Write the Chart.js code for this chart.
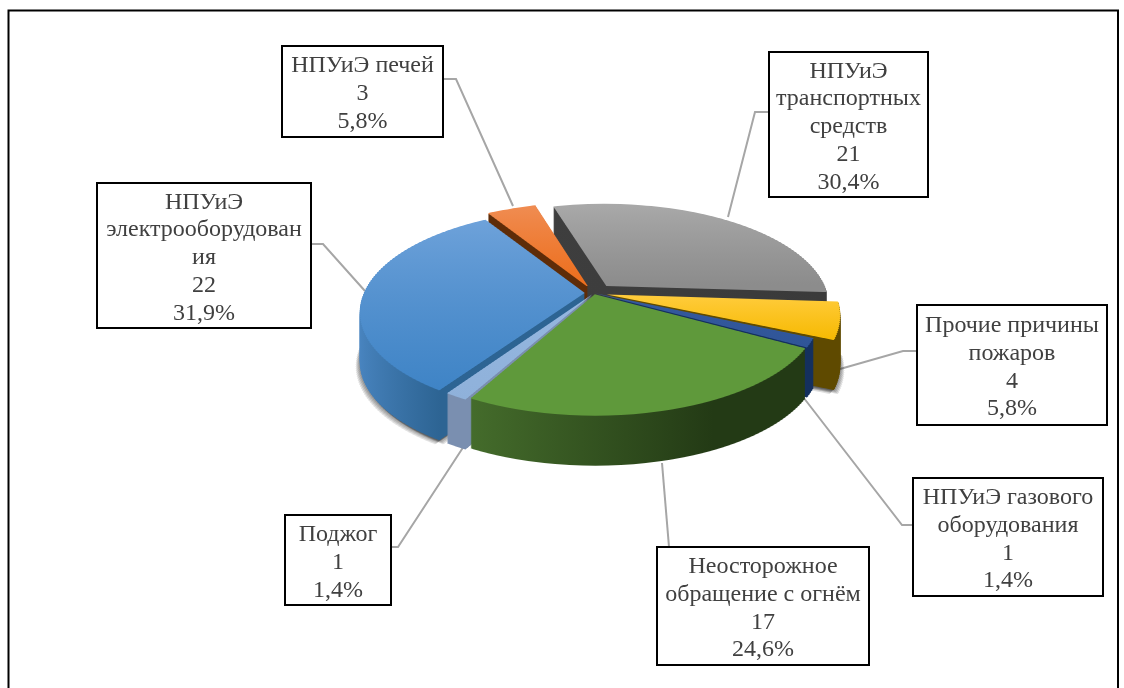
<!DOCTYPE html>
<html>
<head>
<meta charset="utf-8">
<title>Причины пожаров</title>
<script src="https://cdn.jsdelivr.net/npm/chart.js@4"></script>
<style>
    html, body { margin: 0; padding: 0; background: #fff; }
    canvas { display: block; }
</style>
</head>
<body>
<canvas id="firesChart" width="1124" height="688"></canvas>
<script>
// Data, clockwise from the grey slice
const categories = [
    ['НПУиЭ', 'транспортных', 'средств'],
    ['Прочие причины', 'пожаров'],
    ['НПУиЭ газового', 'оборудования'],
    ['Неосторожное', 'обращение с огнём'],
    ['Поджог'],
    ['НПУиЭ', 'электрооборудован', 'ия'],
    ['НПУиЭ печей']
];
const fireCounts = [21, 4, 1, 17, 1, 22, 3];
const percentLabels = ['30,4%', '5,8%', '1,4%', '24,6%', '1,4%', '31,9%', '5,8%'];

// Slice styles
const topColors = [
    ['#ababab', '#8c8c8c'], ['#ffcb3a', '#f6b900'], ['#35599f', '#2f5597'], ['#5f993b', '#5f993b'],
    ['#95b7e0', '#8fb1da'], ['#6ea2da', '#3f84c6'], ['#f08e55', '#ed7020']
];
// [left colour, right colour, left x, right x] with x as a fraction of the radius
const wallColors = [
    ['#404040', '#3a3a3a', -1, 1], ['#5f4a00', '#5f4a00', -1, 1], ['#14305e', '#14305e', -1, 1],
    ['#47702d', '#233a15', -0.55, 0.45], ['#7a8fb0', '#7a8fb0', -1, 1],
    ['#4a86c2', '#2d6493', -1, -0.55], ['#5e2c08', '#5e2c08', -1, 1]
];
const sliceOffsets = [80, 52, 6, 12, 12, 37, 51];
const paintOrder = [0, 6, 1, 2, 5, 4, 3];
const shadowSlices = [1, 5];

// Callout boxes: [left, top, right, bottom] and the grey leader line
const calloutBoxes = [
    [769, 52, 928, 197], [917, 305, 1107, 425], [913, 478, 1103, 596],
    [657, 547, 869, 665], [285, 515, 391, 605], [97, 183, 311, 328], [282, 46, 443, 137]
];
const leaderLines = [
    [[769, 112], [755, 112], [728, 217]],
    [[917, 351], [903, 351], [833, 371]],
    [[913, 525], [902, 525], [800, 393]],
    [[669, 547], [662, 463]],
    [[391, 547], [398, 547], [464, 446]],
    [[311, 244], [323, 244], [365, 291]],
    [[443, 79], [456, 79], [513, 206]]
];

// Pie projection on the page
const centerX = 594;
const centerY = 293;
const pieRadius = 220;
const tilt = 0.45;
const perspective = 0.18 / pieRadius;
const pieDepth = 50;
const rowStep = 2;

const toScreenY = y => tilt * y / (1 - perspective * y);
const toFlatY = sy => sy / (tilt + perspective * sy);

function sliceRows(arc) {
    // vertical extent of the slice, then the page rows it covers
    const shift = arc.options.offset / 4 * (2 - Math.sin(Math.min(Math.PI, arc.circumference)));
    const mid = (arc.startAngle + arc.endAngle) / 2;
    const shiftY = Math.sin(mid) * shift;
    let yMin = shiftY, yMax = shiftY;
    for (let i = 0; i <= 24; i++) {
        const a = arc.startAngle + (arc.endAngle - arc.startAngle) * i / 24;
        const y = shiftY + Math.sin(a) * arc.outerRadius;
        yMin = Math.min(yMin, y);
        yMax = Math.max(yMax, y);
    }
    const rows = [];
    const last = Math.ceil(toScreenY(yMax));
    for (let sy = Math.floor(toScreenY(yMin)) - 1; sy < last + 1; sy += rowStep) {
        const y0 = toFlatY(sy);
        const y1 = toFlatY(sy + rowStep);
        rows.push({ sy, y0, y1, w: 1 - perspective * (y0 + y1) / 2 });
    }
    return { rows, yMin, yMax };
}

function paintSlice(ctx, arc, rows, fill, depth, dx) {
    const flatArc = Object.create(arc);
    flatArc.options = {
        backgroundColor: fill, borderColor: 'transparent', borderWidth: 0, borderAlign: 'center',
        borderRadius: 0, spacing: 0, circular: true, offset: arc.options.offset
    };
    rows.forEach(function(row) {
        ctx.save();
        ctx.beginPath();
        ctx.rect(0, centerY + depth + row.sy, 1124, rowStep);
        ctx.clip();
        ctx.translate(centerX + dx, centerY + depth + row.sy);
        ctx.scale(1 / row.w, rowStep / (row.y1 - row.y0));
        ctx.translate(-arc.x, -arc.y - row.y0);
        flatArc.draw(ctx);
        ctx.restore();
    });
}

const tiltedPie = {
    id: 'tiltedPie',
    beforeDatasetsDraw(chart) {
        const ctx = chart.ctx;
        const arcs = chart.getDatasetMeta(0).data;
        const R = arcs[0].outerRadius;
        const cx = arcs[0].x;
        const cy = arcs[0].y;

        // leader lines sit under the pie
        ctx.save();
        ctx.strokeStyle = '#a6a6a6';
        ctx.lineWidth = 2;
        leaderLines.forEach(function(line) {
            ctx.beginPath();
            line.forEach(p => ctx.lineTo(p[0], p[1]));
            ctx.stroke();
        });
        ctx.restore();

        shadowSlices.forEach(function(i) {
            const rows = sliceRows(arcs[i]).rows;
            for (let s = 4; s >= 1; s--) {
                paintSlice(ctx, arcs[i], rows, 'rgba(0,0,0,0.12)', pieDepth + s, -s);
                paintSlice(ctx, arcs[i], rows, 'rgba(0,0,0,0.12)', pieDepth + s, s);
            }
        });

        paintOrder.forEach(function(i) {
            const arc = arcs[i];
            const { rows, yMin, yMax } = sliceRows(arc);

            const wall = ctx.createLinearGradient(cx + wallColors[i][2] * R, 0, cx + wallColors[i][3] * R, 0);
            wall.addColorStop(0, wallColors[i][0]);
            wall.addColorStop(1, wallColors[i][1]);
            for (let d = pieDepth; d >= 1; d--) {
                paintSlice(ctx, arc, rows, wall, d, 0);
            }

            const top = ctx.createLinearGradient(0, cy + yMin, 0, cy + yMax);
            top.addColorStop(0, topColors[i][0]);
            top.addColorStop(1, topColors[i][1]);
            paintSlice(ctx, arc, rows, top, 0, 0);
        });
        return false;
    },
    afterDraw(chart) {
        const ctx = chart.ctx;
        ctx.save();

        // outer frame, cut off by the bottom of the picture
        ctx.strokeStyle = '#000';
        ctx.lineWidth = 2;
        ctx.beginPath();
        ctx.moveTo(8.5, 688);
        ctx.lineTo(8.5, 10.5);
        ctx.lineTo(1118, 10.5);
        ctx.lineTo(1118, 688);
        ctx.stroke();

        ctx.font = "24px 'Liberation Serif', serif";
        ctx.textAlign = 'center';
        ctx.textBaseline = 'middle';
        calloutBoxes.forEach(function(box, i) {
            const w = box[2] - box[0];
            const h = box[3] - box[1];
            ctx.fillStyle = '#fff';
            ctx.fillRect(box[0], box[1], w, h);
            ctx.strokeStyle = '#000';
            ctx.strokeRect(box[0], box[1], w, h);

            const lines = chart.data.labels[i].concat(String(fireCounts[i]), percentLabels[i]);
            const lineHeight = 27.8;
            const firstY = box[1] + h / 2 + 2.5 - (lines.length - 1) * lineHeight / 2;
            ctx.fillStyle = '#404040';
            lines.forEach(function(text, n) {
                ctx.fillText(text, box[0] + w / 2, firstY + n * lineHeight);
            });
        });
        ctx.restore();
    }
};

const firesChart = new Chart(document.getElementById('firesChart').getContext('2d'), {
    type: 'pie',
    data: {
        labels: categories,
        datasets: [{
            data: fireCounts,
            offset: sliceOffsets,
            borderWidth: 0
        }]
    },
    options: {
        responsive: false,
        animation: false,
        events: [],
        radius: pieRadius,
        rotation: -16,
        plugins: {
            legend: { display: false },
            tooltip: { enabled: false }
        }
    },
    plugins: [tiltedPie]
});
</script>
</body>
</html>
